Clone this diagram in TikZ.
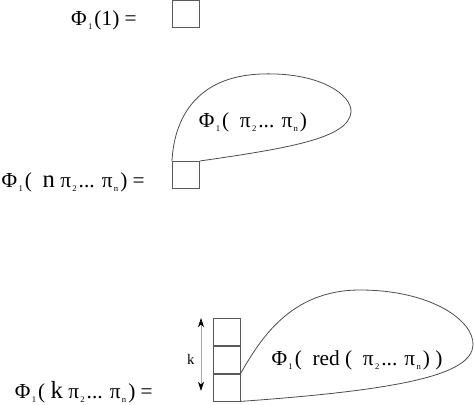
\documentclass[tikz,border=0pt]{standalone}
\usepackage{fontspec}
\setmainfont{Liberation Serif}
\usetikzlibrary{arrows.meta}
\newcommand{\lowidx}[1]{\kern1pt\raisebox{-0.4ex}{\fontsize{6.5}{6.5}\selectfont #1}\kern1.5pt}
\newcommand{\bigletter}[1]{{\fontsize{18.5}{18}\selectfont #1}}
\begin{document}
\begin{tikzpicture}[x=0.75pt,y=-0.75pt,>={Stealth[length=7pt,width=4.5pt,black]},
		cell/.style={draw=black!65,line width=0.6pt,minimum size=20.25pt,inner sep=0pt,anchor=north west},
		blob/.style={draw=black!70,line width=0.6pt},
		lbl/.style={font=\fontsize{16}{18}\selectfont,inner sep=0pt}]
		\useasboundingbox (0,0) rectangle (474,404);
		%\draw [help lines] (0,0) grid (474,404);
		%1
		\node [cell] (c1) at (172,0) {};
		\node [lbl,anchor=east] (t1) at (137,20) {Φ\lowidx{1}(1) =};
		%n
		\node [cell] (c2) at (172,161) {};
		\node [lbl,anchor=east] (t2) at (145,182) {Φ\lowidx{1}(\ \ \bigletter{n} π\lowidx{2} ... π\lowidx{n}) =};
		\draw [blob] (c2.north west) .. controls (174,120) and (195,76) .. (262,74)
			.. controls (320,72) and (352,95) .. (351,112)
			.. controls (349,138) and (290,148) .. (c2.north east);
		\node [lbl] (b2) at (253,122) {Φ\lowidx{1}(\ \ π\lowidx{2} ... π\lowidx{n})};
		%k
		\node [cell] (ka) at (212.7,318) {};
		\node [cell] (kb) at (ka.south west) {};
		\node [cell] (kc) at (kb.south west) {};
		\node [lbl,anchor=east] (t3) at (153,392) {Φ\lowidx{1}(\ \bigletter{k}\ π\lowidx{2} ... π\lowidx{n}) =};
		\draw [blob] (kc.north east) .. controls (260,340) and (290,290) .. (360,290)
			.. controls (430,290) and (474,320) .. (473,345)
			.. controls (472,375) and (400,390) .. (kc.south east);
		\node [lbl] (b3) at (357,360) {Φ\lowidx{1}(\ \ red (\ \ π\lowidx{2} ... π\lowidx{n}) )};
		%Distanza
		\coordinate (ktop) at (201,318);
		\coordinate (kbot) at (201,391);
		\draw [<->,black!35,line width=0.5pt] (ktop) -- (kbot);
		\node [font=\fontsize{11}{12}\selectfont,inner sep=0pt] (klbl) at (190.7,359) {k};
\end{tikzpicture}
\end{document}
